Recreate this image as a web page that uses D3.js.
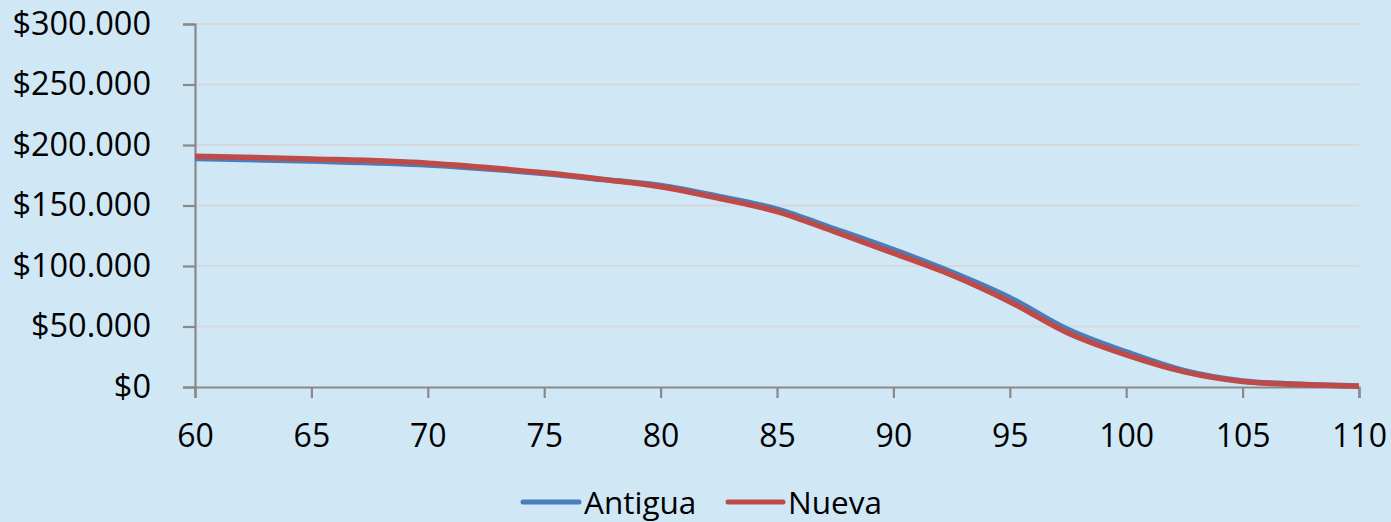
<!DOCTYPE html>
<html>
<head>
<meta charset="utf-8">
<script src="https://cdn.jsdelivr.net/npm/d3@7"></script>
<style>
  html, body { margin: 0; padding: 0; background: #D0E7F6; }
  svg { display: block; }
  text { font-family: "Open Sans", "Noto Sans", sans-serif; fill: #000; }
</style>
</head>
<body>
<svg id="chart" width="1391" height="522"></svg>
<script>
// ---- data ----
const ages = [60, 65, 70, 75, 77.5, 80, 82.5, 85, 87.5, 90, 92.5, 95, 97.5, 100, 102.5, 105, 107.5, 110];
const antigua = [188800, 186700, 183500, 176500, 171500, 166500, 157500, 147000, 130500, 113500, 95000, 73800, 47500, 29000, 13500, 5000, 2300, 800];
const nueva   = [190800, 188500, 185000, 177000, 171600, 165500, 156000, 145000, 128200, 110700, 92600, 70500, 44600, 26500, 12500, 4500, 2000, 700];
const xTicks = [60, 65, 70, 75, 80, 85, 90, 95, 100, 105, 110];
const yTicks = [0, 50000, 100000, 150000, 200000, 250000, 300000];
const seriesNames = ["Antigua", "Nueva"];
const seriesColors = ["#4A7EBB", "#BE4B48"];

(function () {
// ---- layout ----
const svg = d3.select("#chart");
const mLeft = 195, mRight = 1359, mTop = 24, mBottom = 387;
const x = d3.scaleLinear().domain([60, 110]).range([mLeft, mRight]);
const y = d3.scaleLinear().domain([0, 300000]).range([mBottom, mTop]);

const fmt = v => "$" + d3.format(",")(v).replace(/,/g, ".");

// gridlines
svg.append("g").selectAll("line").data(yTicks.filter(d => d > 0)).join("line")
  .attr("x1", mLeft).attr("x2", mRight)
  .attr("y1", d => y(d)).attr("y2", d => y(d))
  .attr("stroke", "#D6D9DC").attr("stroke-width", 2);

// y axis
const yAxis = svg.append("g").attr("transform", `translate(${mLeft},0)`)
  .call(d3.axisLeft(y).tickValues(yTicks).tickFormat(fmt).tickSize(12).tickPadding(32));
yAxis.select(".domain").attr("stroke", "#898989").attr("stroke-width", 2.2);
yAxis.selectAll(".tick line").attr("stroke", "#898989").attr("stroke-width", 2.2);
yAxis.selectAll(".tick text").attr("font-size", 32.5).attr("font-family", "'Open Sans', sans-serif").attr("fill", "#000");

// x axis
const xAxis = svg.append("g").attr("transform", `translate(0,${mBottom})`)
  .call(d3.axisBottom(x).tickValues(xTicks).tickFormat(d3.format("d")).tickSize(11).tickPadding(26));
xAxis.select(".domain").attr("stroke", "#898989").attr("stroke-width", 2.2);
xAxis.selectAll(".tick line").attr("stroke", "#898989").attr("stroke-width", 2.2);
xAxis.selectAll(".tick text").attr("font-size", 32).attr("font-family", "'Open Sans', sans-serif").attr("fill", "#000");

// lines
const line = d3.line().x(d => x(d[0])).y(d => y(d[1])).curve(d3.curveCatmullRom.alpha(0.5));
[antigua, nueva].forEach((vals, i) => {
  svg.append("path")
    .datum(ages.map((a, k) => [a, vals[k]]))
    .attr("fill", "none")
    .attr("stroke", seriesColors[i])
    .attr("stroke-width", 5.5)
    .attr("stroke-linejoin", "round")
    .attr("d", line);
});

// legend
const legendItems = [{x1: 523, x2: 579, tx: 584}, {x1: 728, x2: 783, tx: 788}];
seriesNames.forEach((name, i) => {
  const it = legendItems[i];
  svg.append("line").attr("x1", it.x1).attr("x2", it.x2).attr("y1", 502).attr("y2", 502)
    .attr("stroke", seriesColors[i]).attr("stroke-width", 5).attr("stroke-linecap", "round");
  svg.append("text").attr("x", it.tx).attr("y", 514).attr("font-size", 31.5).text(name);
});
})();
</script>
</body>
</html>
